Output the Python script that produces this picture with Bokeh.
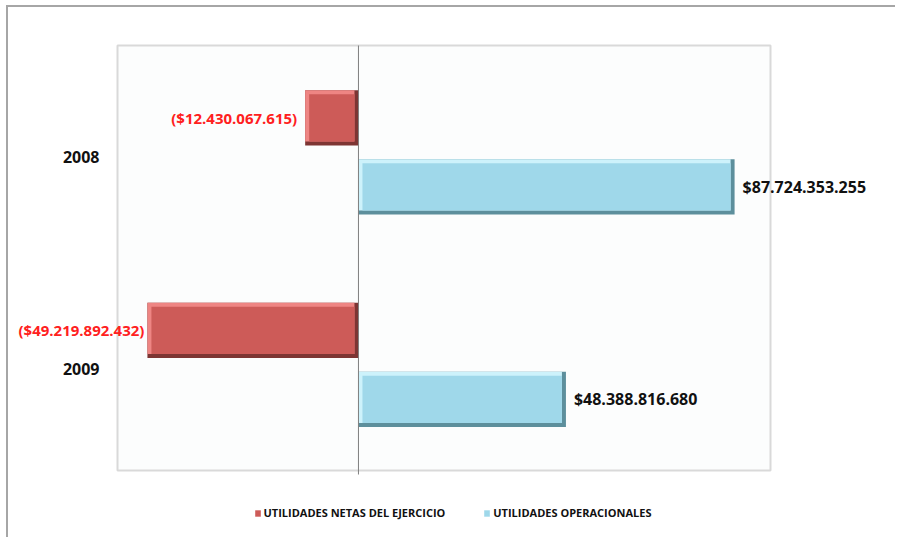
from bokeh.plotting import figure
from bokeh.models import Range1d, Legend, LegendItem, ColumnDataSource, LabelSet
from bokeh.core.properties import value
from bokeh.embed import file_html
from bokeh.resources import INLINE

years = ["2008", "2009"]
netas = [-12430067615, -49219892432]
operacionales = [87724353255, 48388816680]
series_names = ["UTILIDADES NETAS DEL EJERCICIO", "UTILIDADES OPERACIONALES"]

FONT = "Open Sans"
OX, OY = 8, 7                     # canvas origin after border/margin
W, H = 889, 532
# plot box in page pixels and in data units
BL, BR, BT, BB = 117, 770, 45, 470
xb0, xb1 = -56.2e9, 96.1e9
yb0, yb1 = -0.5, 1.5
ppx = (BR - BL) / (xb1 - xb0)
ppy = (BB - BT) / (yb1 - yb0)
x0 = xb0 - (BL - OX) / ppx
x1 = xb1 + (OX + W - BR) / ppx
y1 = yb1 + (BT - OY) / ppy
y0 = yb0 - (OY + H - BB) / ppy

p = figure(width=W, height=H, output_backend="svg", toolbar_location=None,
           x_range=Range1d(x0, x1), y_range=Range1d(y0, y1),
           min_border_left=0, min_border_right=0, min_border_top=0, min_border_bottom=0,
           background_fill_color="white", border_fill_color="white", outline_line_color=None)
p.styles = {"border-left": "2px solid #a6a6a6", "border-top": "2px solid #a6a6a6",
            "margin-left": "6px", "margin-top": "5px"}
p.grid.visible = False
p.axis.visible = False

# plot-area box
p.quad(left=[xb0], right=[xb1], bottom=[yb0], top=[yb1], fill_color="#fcfdfd",
       line_color="#d9d9d9", line_width=2)

ypos = [len(years) - 1 - i for i in range(len(years))]
src_y = ColumnDataSource(dict(x=[xb0] * len(years), y=ypos, t=years))
p.add_layout(LabelSet(x="x", y="y", text="t", source=src_y, x_offset=-18, y_offset=-5,
                      text_align="right", text_baseline="middle", text_font=value(FONT),
                      text_font_style="bold", text_font_size="16px", text_color="#111111"))

bx = 4 / ppx
by = 4 / ppy
bar_h = 0.26
offsets = [0.16, -0.165]
palettes = [("#7d3533", "#ee8583", "#cd5b58"), ("#5d8f9c", "#cdf2fb", "#9fd8ea")]
series = [netas, operacionales]
body_renderers = []
for vals, off, (dark, light, body) in zip(series, offsets, palettes):
    c = [yp + off for yp in ypos]
    lefts = [min(0, v) for v in vals]
    rights = [max(0, v) for v in vals]
    p.hbar(y=c, left=lefts, right=rights, height=bar_h, fill_color=dark, line_color=None)
    p.hbar(y=[ci + by / 2 for ci in c], left=lefts, right=[r - bx for r in rights],
           height=bar_h - by, fill_color=light, line_color=None)
    r = p.hbar(y=c, left=[l + bx for l in lefts], right=[r - bx for r in rights],
               height=bar_h - 2 * by, fill_color=body, line_color=None)
    body_renderers.append(r)

# zero line
p.segment(x0=[0], y0=[yb0 - 4 / ppy], x1=[0], y1=[yb1], line_color="#7f7f7f", line_width=1)

def fmt(v):
    s = "$" + f"{abs(v):,}".replace(",", ".")
    return f"({s})" if v < 0 else s

src_n = ColumnDataSource(dict(x=netas, y=[yp + offsets[0] for yp in ypos], t=[fmt(v) for v in netas],
                              dx=[-8, -3]))
p.add_layout(LabelSet(x="x", y="y", text="t", source=src_n, x_offset="dx", text_align="right",
                      text_baseline="middle", text_font=value(FONT), text_font_style="bold",
                      text_font_size="15px", text_color="#ff2020"))
src_o = ColumnDataSource(dict(x=operacionales, y=[yp + offsets[1] for yp in ypos], t=[fmt(v) for v in operacionales]))
p.add_layout(LabelSet(x="x", y="y", text="t", source=src_o, x_offset=8, text_align="left",
                      text_baseline="middle", text_font=value(FONT), text_font_style="bold",
                      text_font_size="16px", text_color="#111111"))

legend = Legend(items=[LegendItem(label=n, renderers=[r]) for n, r in zip(series_names, body_renderers)],
                orientation="horizontal", location="bottom_center",
                label_text_font=FONT, label_text_font_style="bold", label_text_font_size="11px",
                label_text_color="#111111", glyph_width=7, glyph_height=8, label_standoff=3,
                spacing=38, border_line_color=None, background_fill_alpha=0,
                margin=19, padding=0, label_height=10)
p.add_layout(legend, "center")

open("out.html", "w").write(file_html(p, INLINE))
